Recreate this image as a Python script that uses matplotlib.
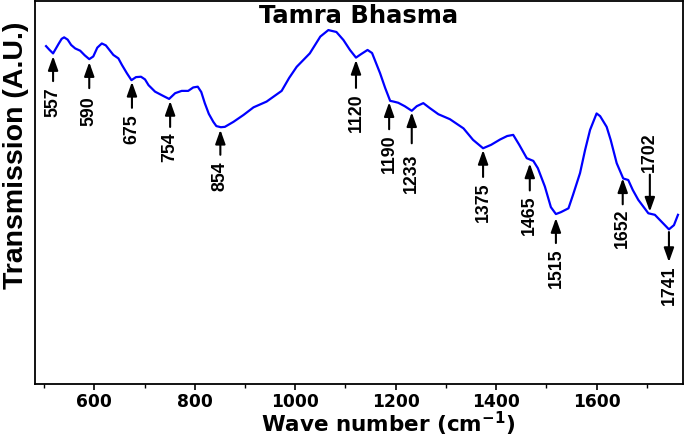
import numpy as np
import matplotlib
matplotlib.use("Agg")
import matplotlib.pyplot as plt
from matplotlib.transforms import offset_copy

# ---------------- data ----------------
wavenumber = [504, 511, 518, 529, 535, 540, 547, 554, 562, 572, 581, 590, 598, 606, 615, 623,
              638, 648, 655, 665, 674, 683, 693, 701, 708, 721, 737, 749, 761, 774, 787, 797,
              806, 813, 820, 828, 837, 843, 852, 860, 877, 897, 917, 943, 973, 988, 1003, 1029,
              1050, 1066, 1082, 1096, 1109, 1121, 1131, 1144, 1153, 1169, 1179, 1189, 1196, 1205,
              1218, 1232, 1242, 1255, 1268, 1285, 1308, 1335, 1354, 1374, 1390, 1408, 1422, 1434,
              1446, 1461, 1474, 1483, 1497, 1509, 1519, 1529, 1544, 1553, 1567, 1577, 1587, 1600,
              1607, 1620, 1628, 1640, 1653, 1663, 1672, 1683, 1703, 1716, 1730, 1744, 1754, 1762]
transmission = [88.2, 87.2, 86.3, 88.8, 90.1, 90.5, 89.9, 88.5, 87.6, 87.0, 85.8, 84.8, 85.5, 87.8, 88.9, 88.4,
                85.9, 85.0, 83.3, 81.1, 79.3, 80.1, 80.2, 79.5, 78.0, 76.3, 75.2, 74.4, 75.9, 76.5, 76.5, 77.4,
                77.6, 76.2, 73.3, 70.5, 68.4, 67.3, 67.0, 67.1, 68.4, 70.2, 72.2, 73.7, 76.5, 79.9, 82.8, 86.3,
                90.7, 92.4, 91.9, 89.8, 87.2, 85.2, 86.1, 87.2, 86.4, 81.1, 77.3, 73.9, 73.7, 73.4,
                72.5, 71.3, 72.5, 73.3, 72.0, 70.4, 69.1, 66.7, 63.7, 61.5, 62.4, 63.8, 64.7, 65.0,
                62.4, 58.9, 58.2, 56.3, 51.5, 46.1, 44.3, 44.8, 45.8, 49.3, 55.0, 61.0, 66.3, 70.6,
                69.9, 67.1, 63.7, 57.6, 53.6, 53.2, 50.6, 48.0, 44.5, 44.1, 42.2, 40.3, 41.4, 44.1]

peak_labels = ['557', '590', '675', '754', '854', '1120', '1190', '1233', '1375', '1465',
               '1515', '1652', '1702', '1741']
peak_pos = [518, 590, 675, 751, 851, 1121, 1187, 1232, 1374, 1467, 1519, 1652, 1706, 1744]

x_ticks = [600, 800, 1000, 1200, 1400, 1600]
x_minor = [500, 700, 900, 1100, 1300, 1500, 1700]

# ---------------- layout (pixels) ----------------
# 'up': arrow below the curve pointing up to it, label below
# 'down': arrow above the curve pointing down to it, label above
# 'below': arrow starting at the curve pointing down to the label below
peak_mode = ['up'] * 12 + ['down', 'below']
tip_gap_px = [2.7, 3, 2, 3, 2.7, 2.3, 4, 1.5, 1.7, 4, 4, 1, 2, 2.7]
arrow_px = [25, 26, 26, 26, 25, 28, 27, 31, 27, 27, 25, 26, 37, 30]
text_gap_px = [6, 8, 7, 5, 7, 5, 5, 10, 6, 5, 5, 4, 3, 3]

DPI = 100
PX2PT = 72.0 / DPI

fig = plt.figure(figsize=(6.85, 4.41), dpi=DPI)
ax = fig.add_axes([35 / 685, 1 - 383.5 / 441, 648 / 685, 382.5 / 441])

ax.plot(wavenumber, transmission, color='#0000ff', lw=1.6, solid_joinstyle='round')

ax.set_xlim(482, 1772)
ax.set_ylim(0, 100)
ax.set_xticks(x_ticks)
ax.set_xticks(x_minor, minor=True)
ax.set_yticks([])
for s in ax.spines.values():
    s.set_linewidth(1.3)
ax.tick_params(axis='x', which='major', direction='out', length=4, width=1.2, pad=3,
               labelsize=12.3)
ax.tick_params(axis='x', which='minor', direction='out', length=3, width=1.0)
for lab in ax.get_xticklabels():
    lab.set_fontweight('bold')
    lab.set_family('DejaVu Sans')

# Title inside axes
ax.text(0.5, 1 - 3 / 382.5, 'Tamra Bhasma', transform=ax.transAxes, ha='center', va='top',
        fontsize=17.5, fontweight='bold', family='DejaVu Sans')

# Axis labels
plt.rcParams['mathtext.fontset'] = 'dejavusans'
plt.rcParams['mathtext.default'] = 'bf'
fig.text(388 / 685, 1 - 432 / 441, r'Wave number (cm$^{-1}$)', ha='center', va='baseline',
         fontsize=15.5, fontweight='bold', family='DejaVu Sans')
fig.text(16 / 685, 1 - 155 / 441, 'Transmission (A.U.)', rotation=90, ha='center', va='center',
         fontsize=20.5, fontweight='bold', family=['Liberation Sans', 'DejaVu Sans'])

label_font = dict(fontsize=12.8, fontweight='bold', family=['Liberation Sans', 'DejaVu Sans'])
arrow_props = dict(arrowstyle='-|>,head_length=0.7,head_width=0.25', color='black', lw=1.5,
                   mutation_scale=12, shrinkA=0, shrinkB=0)


def shifted(dy_pt):
    return offset_copy(ax.transData, fig=fig, x=0, y=dy_pt, units='points')


for lab, xp, mode, g, a, t in zip(peak_labels, peak_pos, peak_mode, tip_gap_px, arrow_px, text_gap_px):
    yc = float(np.interp(xp, wavenumber, transmission))
    g, a, t = g * PX2PT, a * PX2PT, t * PX2PT
    if mode == 'up':
        head, tail, txt, va = -g, -g - a, -g - a - t, 'top'
    elif mode == 'down':
        head, tail, txt, va = g, g + a, g + a + t, 'bottom'
    else:
        head, tail, txt, va = -g - a, -g, -g - a - t, 'top'
    ax.annotate('', xy=(xp, yc), xycoords=shifted(head), xytext=(xp, yc),
                textcoords=shifted(tail), arrowprops=arrow_props, annotation_clip=False)
    ax.annotate(lab, xy=(xp, yc), xycoords=shifted(txt), rotation=90, ha='center', va=va,
                annotation_clip=False, **label_font)

fig.savefig('out.png', dpi=DPI)
